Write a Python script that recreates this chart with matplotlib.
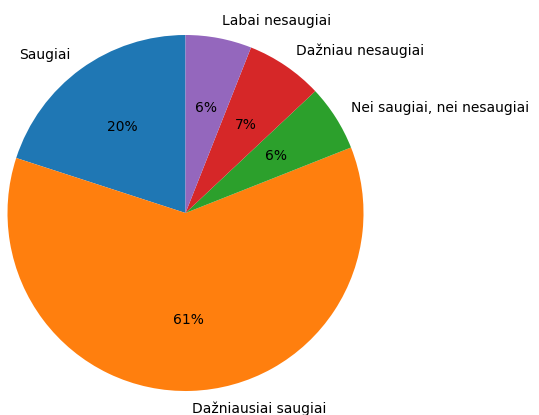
import matplotlib
matplotlib.use("Agg")
import matplotlib.pyplot as plt

labels = ["Saugiai", "Dažniausiai saugiai", "Nei saugiai, nei nesaugiai",
          "Dažniau nesaugiai", "Labai nesaugiai"]
values = [20, 61, 6, 7, 6]

fig = plt.figure(figsize=(5.39, 4.15), dpi=100)
W, H = 539, 415
cx, cy, r = 185.5, 415 - 213, 178
ax = fig.add_axes([(cx - r) / W, (cy - r) / H, 2 * r / W, 2 * r / H])
ax.pie(values, labels=labels, autopct="%1.0f%%", startangle=90)
ax.set_xlim(-1, 1)
ax.set_ylim(-1, 1)
ax.set_aspect("equal")
fig.savefig("out.png", dpi=100)
